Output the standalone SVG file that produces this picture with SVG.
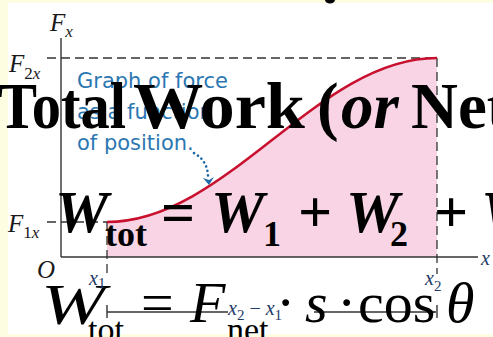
<svg xmlns="http://www.w3.org/2000/svg" width="493" height="337" viewBox="0 0 493 337">
<style>
.lab{font-family:"Liberation Serif","Times New Roman",serif;font-style:italic;font-size:25px;fill:#1a1a1a}
.sub{font-size:17px}
.xl{font-family:"Liberation Serif","Times New Roman",serif;font-style:italic;font-size:20px;fill:#1e3a68}
.xs{font-style:normal;font-size:15px}
.blue{font-family:"DejaVu Sans","Liberation Sans",sans-serif;font-size:21px;fill:#2b77b2}
.dash{stroke:#333;stroke-width:1.3;stroke-dasharray:9 5;fill:none}
.ax{stroke:#333;stroke-width:1.4;fill:none}
.b1{font-family:"Liberation Serif","Times New Roman",serif;font-weight:bold;font-size:65px;fill:#000}
.b2{font-family:"Liberation Serif","Times New Roman",serif;font-weight:bold;font-size:60px;fill:#000}
.b2s{font-family:"Liberation Serif","Times New Roman",serif;font-weight:bold;font-size:36px;fill:#000}
.r3{font-family:"Liberation Serif","Times New Roman",serif;font-size:58px;fill:#000}
.r3s{font-family:"Liberation Serif","Times New Roman",serif;font-size:34px;fill:#000}
.it{font-style:italic}
</style>
<defs>
<marker id="ah" viewBox="0 0 10 10" refX="10" refY="5" markerWidth="7" markerHeight="7" orient="auto" markerUnits="userSpaceOnUse">
<path d="M0,1 L10,5 L0,9 Z" fill="#333"/>
</marker>
</defs>
<rect x="0" y="0" width="493" height="337" fill="#fdfde2"/>
<rect x="8" y="3" width="485" height="331" fill="#ffffff"/>
<ellipse cx="330" cy="0" rx="5" ry="3.5" fill="#000"/>

<g id="plot">
<path id="area" d="M107,257 L107,222 C227.2,222 316.8,58 437,58 L437,257 Z" fill="#f8d4e4"/>
<g id="guides">
<line class="dash" x1="47" y1="58" x2="437" y2="58"/>
<line class="dash" x1="437" y1="58" x2="437" y2="274"/>
<line class="dash" x1="47" y1="222" x2="107" y2="222"/>
<line class="dash" x1="107" y1="222" x2="107" y2="274"/>
</g>
<g id="axes">
<line class="ax" x1="61" y1="38" x2="61" y2="257"/>
<line class="ax" x1="61" y1="257" x2="478" y2="257"/>
</g>
<path id="curve" d="M107,222 C227.2,222 316.8,58 437,58" fill="none" stroke="#c8102e" stroke-width="2.5"/>
<g id="dimension">
<line class="ax" x1="107" y1="305" x2="107" y2="318"/>
<line class="ax" x1="437" y1="305" x2="437" y2="318"/>
<line class="ax" x1="107" y1="312" x2="228" y2="312"/>
<line class="ax" x1="314" y1="312" x2="436" y2="312" marker-end="url(#ah)"/>
</g>
</g>

<g id="note">
<text class="blue" x="77" y="88">Graph of force</text>
<text class="blue" x="77" y="119">as a function</text>
<text class="blue" x="77" y="150">of position.</text>
<path d="M194,153 Q208,161 208,177" fill="none" stroke="#1f6aa6" stroke-width="2.6" stroke-linecap="round" stroke-dasharray="0.1 4.5"/>
<path d="M203,178 L209,185 L214,177 L209,180 Z" fill="#1f6aa6"/>
</g>

<g id="overlay">
<text class="b1" x="-2" y="128" textLength="128" lengthAdjust="spacingAndGlyphs">Total</text>
<text class="b1" x="133" y="128" textLength="172" lengthAdjust="spacingAndGlyphs">Work</text>
<text class="b1" x="317" y="128">(</text>
<text class="b1 it" x="341" y="128">or</text>
<text class="b1" x="411" y="128">Net</text>

<text class="b2 it" x="55" y="232">W</text>
<text class="b2s" x="105" y="246">tot</text>
<text class="b2" x="161" y="232">=</text>
<text class="b2 it" x="211" y="232">W</text>
<text class="b2s" x="263" y="246">1</text>
<text class="b2" x="298" y="232">+</text>
<text class="b2 it" x="346" y="232">W</text>
<text class="b2s" x="390" y="246">2</text>
<text class="b2" x="434" y="232">+</text>
<text class="b2 it" x="481" y="232">W</text>

<text class="r3 it" x="41" y="324" font-size="59" textLength="64" lengthAdjust="spacingAndGlyphs">W</text>
<text class="r3s" x="88" y="341">tot</text>
<text class="r3" x="141" y="322">=</text>
<text class="r3 it" x="190" y="322">F</text>
<text class="r3s" x="227" y="341">net</text>
<text class="r3" x="276" y="322">·</text>
<text class="r3 it" x="305" y="322">s</text>
<text class="r3" x="337" y="322">·</text>
<text class="r3" x="358" y="322">cos</text>
<text class="r3 it" x="446" y="322">θ</text>
</g>

<g id="labels">
<text class="lab" x="50" y="31">F<tspan class="sub" dy="6">x</tspan></text>
<text class="lab" x="9" y="72">F<tspan class="sub" dy="7"><tspan font-style="normal">2</tspan>x</tspan></text>
<text class="lab" x="8" y="232">F<tspan class="sub" dy="6"><tspan font-style="normal">1</tspan>x</tspan></text>
<text class="lab" x="37" y="278" font-size="17">O</text>
<text class="xl" x="89" y="285">x<tspan class="xs" dy="3">1</tspan></text>
<text class="xl" x="425" y="285">x<tspan class="xs" dy="6">2</tspan></text>
<text class="xl" x="481" y="265">x</text>
<text class="xl" x="228" y="315">x<tspan class="xs" dy="5">2</tspan><tspan font-style="normal" dx="5" dy="-5">−</tspan><tspan dx="5">x</tspan><tspan class="xs" dy="5">1</tspan></text>
</g>
</svg>
